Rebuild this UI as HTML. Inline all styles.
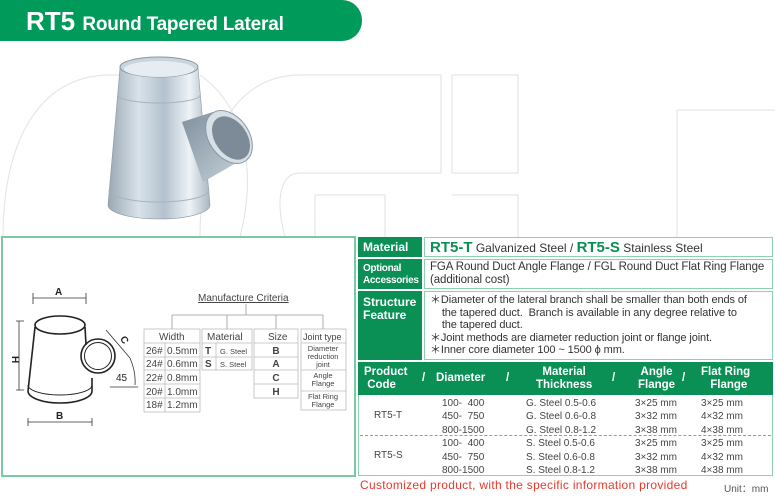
<!DOCTYPE html>
<html><head><meta charset="utf-8"><style>
*{margin:0;padding:0;box-sizing:border-box}
body{width:775px;height:500px;background:#fff;position:relative;overflow:hidden;font-family:"Liberation Sans",Arial,sans-serif;color:#333}
.a{position:absolute}
.hdr{left:0;top:0;width:362px;height:41px;background:#009a5b;border-radius:0 20px 20px 0}
.g{background:#0a8f55;color:#fff;font-weight:bold}
.lab{position:absolute;left:358px;width:64px;background:#0a8f55;color:#fff;font-weight:bold;padding-left:5px}
.cell{position:absolute;left:424px;width:349px;border:1px solid #8fd0b0;padding-left:5px;font-size:11.5px;color:#333;white-space:nowrap}
</style></head><body>
<svg class="a" style="left:0;top:0" width="775" height="500">
<g fill="none" stroke="#e2e2e2" stroke-width="1">
<path d="M3 237 C3 140 40 75 110 75 L125 75"/>
<path d="M105 237 L105 280"/>
<path d="M200 75 C250 110 255 180 240 237"/>
<path d="M200 237 C200 140 235 75 300 75 L441 75 L441 173 L300 173 C280 173 275 200 285 237"/>
<path d="M315 237 L315 195 L385 195 L385 237 M452 75 L518 75 L518 173 L452 173 Z M452 195 L518 195 L518 237"/>
<path d="M677 110 L775 110 M677 110 L677 237"/>
</g>
<defs>
<linearGradient id="bd" x1="0" x2="1"><stop offset="0" stop-color="#9aa8b4"/><stop offset=".3" stop-color="#d8e2ea"/><stop offset=".55" stop-color="#b3c2ce"/><stop offset=".8" stop-color="#eef3f6"/><stop offset="1" stop-color="#a9b7c2"/></linearGradient>
<linearGradient id="br" x1="0" x2="1" y1="0" y2="1"><stop offset="0" stop-color="#7e8f9c"/><stop offset="1" stop-color="#c8d4dd"/></linearGradient>
</defs>
<path d="M120 68 L198 68 L210 205 A51 14 0 0 1 108 205 Z" fill="url(#bd)" stroke="#8997a2" stroke-width=".6"/>
<ellipse cx="159" cy="67" rx="39" ry="10" fill="#c9d4dc" stroke="#8997a2"/>
<ellipse cx="159" cy="69" rx="35" ry="8" fill="#e6edf2"/>
<path d="M118 95 A41 8 0 0 0 200 95" fill="none" stroke="#a6b3bd"/>
<path d="M109 190 A50 12 0 0 0 209 190" fill="none" stroke="#a6b3bd"/>
<path d="M182 122 L213 112 L245 158 L203 182 Z" fill="url(#br)"/>
<ellipse cx="229" cy="137" rx="20" ry="29" transform="rotate(-35 229 137)" fill="#d7e0e6" stroke="#8997a2"/>
<ellipse cx="231" cy="138" rx="16" ry="24" transform="rotate(-35 231 138)" fill="#7c8b97"/>
<rect x="2" y="237" width="353" height="239" fill="#fff" stroke="#79c9a3" stroke-width="2"/>
<g stroke="#222" fill="none" stroke-width="1.6">
<ellipse cx="60" cy="325" rx="25" ry="9"/>
<path d="M35 327 L28 391 M85 327 L86 345"/>
<path d="M28 391 A32 12 0 0 0 92 391"/>
<path d="M28 385 A32 10 0 0 0 92 385" stroke-width="1"/>
<path d="M92 391 L92 378"/>
<circle cx="98" cy="356" r="17" />
<circle cx="98" cy="356" r="13.5" stroke-width="1"/>
</g>
<g stroke="#333" stroke-width=".8" fill="none">
<path d="M33 293 L33 304 M86 293 L86 304 M33 298 L86 298"/>
<path d="M28 418 L28 426 M92 418 L92 426 M28 422 L92 422"/>
<path d="M16 321 L24 321 M16 390 L24 390 M19 321 L19 390"/>
<path d="M106 330 L130 358 M110 387 L138 387"/>
<path d="M130 358 Q136 372 135 385"/>
</g>
<g font-family="Liberation Sans" font-size="10" fill="#222" font-weight="bold">
<text x="55" y="295">A</text><text x="56" y="419">B</text>
<text x="16" y="360" transform="rotate(90 16 356)">H</text>
<text x="120" y="342" transform="rotate(60 123 340)">C</text>
<text x="116" y="381" font-weight="normal">45</text>
</g>
<text x="198" y="301" font-size="10" fill="#444" font-family="Liberation Sans" text-decoration="underline">Manufacture Criteria</text>
<g stroke="#999" stroke-width=".8" fill="none">
<path d="M246 304 L246 315 M172 315 L323 315 M172 315 L172 329 M227 315 L227 329 M276 315 L276 329 M323 315 L323 329"/>
</g>
<g stroke="#bbb" stroke-width=".8" fill="none">
<rect x="144" y="329" width="56" height="83"/><path d="M144 343 H200 M144 357 H200 M144 370 H200 M144 384 H200 M144 398 H200 M165 343 V412"/>
<rect x="202" y="329" width="50" height="41"/><path d="M202 343 H252 M202 357 H252 M216 343 V370"/>
<rect x="254" y="329" width="44" height="69"/><path d="M254 343 H298 M254 357 H298 M254 370 H298 M254 384 H298"/>
<rect x="301" y="329" width="45" height="81"/><path d="M301 343 H346 M301 370 H346 M301 391 H346"/>
</g>
<g font-family="Liberation Sans" font-size="10" fill="#444">
<text x="159" y="340">Width</text><text x="207" y="340">Material</text><text x="268" y="340">Size</text><text x="303" y="340" font-size="9">Joint type</text>
<text x="146" y="354">26#</text><text x="167" y="354">0.5mm</text>
<text x="146" y="367">24#</text><text x="167" y="367">0.6mm</text>
<text x="146" y="381">22#</text><text x="167" y="381">0.8mm</text>
<text x="146" y="395">20#</text><text x="167" y="395">1.0mm</text>
<text x="146" y="408">18#</text><text x="167" y="408">1.2mm</text>
<text x="205" y="354" font-weight="bold">T</text><text x="220" y="354" font-size="7.5">G. Steel</text>
<text x="205" y="367" font-weight="bold">S</text><text x="220" y="367" font-size="7.5">S. Steel</text>
<g font-weight="bold" text-anchor="middle"><text x="276" y="354">B</text><text x="276" y="367">A</text><text x="276" y="381">C</text><text x="276" y="395">H</text></g>
<g font-size="7.5" text-anchor="middle"><text x="323" y="351">Diameter</text><text x="323" y="359">reduction</text><text x="323" y="367">joint</text>
<text x="323" y="378">Angle</text><text x="323" y="386">Flange</text><text x="323" y="399">Flat Ring</text><text x="323" y="407">Flange</text></g>
</g>
</svg>
<div class="a hdr"></div>
<div class="a" style="left:26px;top:6px;color:#fff;font-weight:bold;font-size:26px;white-space:nowrap">RT5 <span style="font-size:19px;letter-spacing:-.2px">Round Tapered Lateral</span></div>

<div class="lab" style="top:237px;height:20px;font-size:12px;line-height:20px">Material</div>
<div class="cell" style="top:237px;height:20px;line-height:19px;font-size:12px"><b style="color:#0a8f55;font-size:15px">RT5-T</b> Galvanized Steel / <b style="color:#0a8f55;font-size:15px">RT5-S</b> Stainless Steel</div>
<div class="lab" style="top:259px;height:30px;font-size:10px;line-height:12px;padding-top:4px;letter-spacing:-.3px">Optional<br>Accessories</div>
<div class="cell" style="top:259px;height:30px;line-height:13px;padding-top:1px;font-size:11.5px;letter-spacing:-.1px">FGA Round Duct Angle Flange / FGL Round Duct Flat Ring Flange<br>(additional cost)</div>
<div class="lab" style="top:291px;height:69px;font-size:12px;line-height:13px;padding-top:5px">Structure<br>Feature</div>
<div class="cell" style="top:291px;height:69px;line-height:12.5px;padding-top:2px;font-size:11px;letter-spacing:-.1px">＊Diameter of the lateral branch shall be smaller than both ends of<br>&nbsp;&nbsp;&nbsp;&nbsp;the tapered duct.&nbsp; Branch is available in any degree relative to<br>&nbsp;&nbsp;&nbsp;&nbsp;the tapered duct.<br>＊Joint methods are diameter reduction joint or flange joint.<br>＊Inner core diameter 100 ~ 1500 ϕ mm.</div>

<div class="a g" style="left:358px;top:362px;width:415px;height:33px;font-size:11.5px;line-height:12.5px">
<div class="a" style="left:6px;top:4px">Product<br>&nbsp;Code</div>
<div class="a" style="left:64px;top:10px">/</div>
<div class="a" style="left:78px;top:10px">Diameter</div>
<div class="a" style="left:148px;top:10px">/</div>
<div class="a" style="left:178px;top:4px;text-align:center">Material<br>Thickness</div>
<div class="a" style="left:254px;top:10px">/</div>
<div class="a" style="left:280px;top:4px;text-align:center">Angle<br>Flange</div>
<div class="a" style="left:324px;top:10px">/</div>
<div class="a" style="left:343px;top:4px;text-align:center">Flat Ring<br>&nbsp;&nbsp;Flange</div>
</div>
<div class="a" style="left:358px;top:395px;width:415px;height:81px;border:1px solid #8fd0b0;border-top:none"></div>
<div class="a" style="left:360px;top:435px;width:411px;border-top:1px dashed #5fb890"></div>
<div class="a" style="left:358px;top:397px;width:415px;font-size:10px;line-height:13.4px;color:#444">
<div class="a" style="left:16px;top:12px">RT5-T</div>
<div class="a" style="left:16px;top:52px">RT5-S</div>
<div class="a" style="left:84px;top:0;white-space:pre">100-  400
450-  750
800-1500
100-  400
450-  750
800-1500</div>
<div class="a" style="left:168px;top:0">G. Steel 0.5-0.6<br>G. Steel 0.6-0.8<br>G. Steel 0.8-1.2<br>S. Steel 0.5-0.6<br>S. Steel 0.6-0.8<br>S. Steel 0.8-1.2</div>
<div class="a" style="left:277px;top:0">3×25 mm<br>3×32 mm<br>3×38 mm<br>3×25 mm<br>3×32 mm<br>3×38 mm</div>
<div class="a" style="left:343px;top:0">3×25 mm<br>4×32 mm<br>4×38 mm<br>3×25 mm<br>4×32 mm<br>4×38 mm</div>
</div>
<div class="a" style="left:360px;top:478px;color:#e53a2e;font-size:12px;letter-spacing:.3px">Customized product, with the specific information provided</div>
<div class="a" style="left:724px;top:480px;color:#555;font-size:10px">Unit：mm</div>
</body></html>
